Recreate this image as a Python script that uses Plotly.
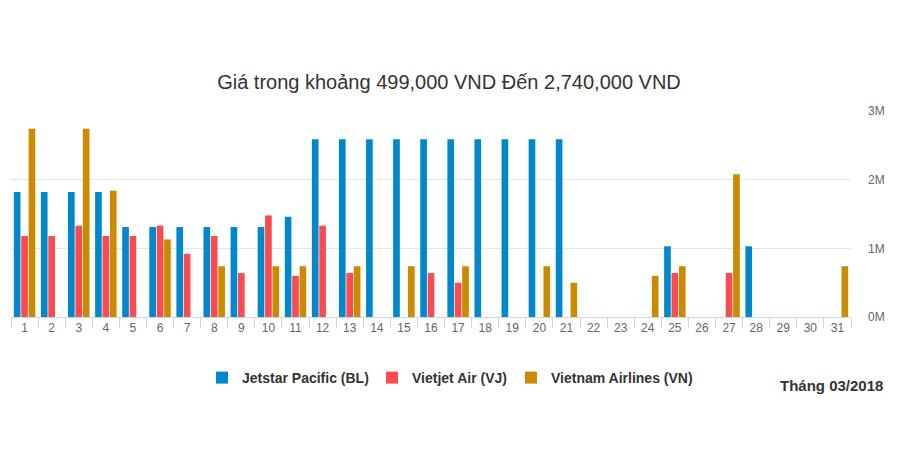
import plotly.graph_objects as go

days = [str(d) for d in range(1, 32)]
jetstar = [1.82, 1.82, 1.82, 1.82, 1.31, 1.31, 1.31, 1.31, 1.31, 1.31, 1.46, 2.59,
           2.59, 2.59, 2.59, 2.59, 2.59, 2.59, 2.59, 2.59, 2.59, None, None, None,
           1.03, None, None, 1.03, None, None, None]
vietjet = [1.18, 1.18, 1.33, 1.18, 1.18, 1.33, 0.92, 1.18, 0.64, 1.48, 0.60, 1.33,
           0.64, None, None, 0.64, 0.499, None, None, None, None, None, None, None,
           0.64, None, 0.64, None, None, None, None]
vna = [2.74, None, 2.74, 1.84, None, 1.13, None, 0.74, None, 0.74, 0.74, None,
       0.74, None, 0.74, None, 0.74, None, None, 0.74, 0.499, None, None, 0.60,
       0.74, None, 2.08, None, None, None, 0.74]
series_names = ["Jetstar Pacific (BL)", "Vietjet Air (VJ)", "Vietnam Airlines (VN)"]
colors = ["#0088cc", "#fa4b50", "#cc8a00"]
y_ticks = [0, 1, 2, 3]
y_labels = ["0M", "1M", "2M", "3M"]

# page body has an 8px margin: figure origin sits at screen (8, 8)
OX, OY = 8, 8
W, H = 900 - OX, 471 - OY
ML, MR, MT, MB = 11 - OX, 49, 111 - OY, 154
PW = W - ML - MR

legend_names = ["legend", "legend2", "legend3"]
legend_text_x = [242, 412, 551]  # screen x where each legend label starts

fig = go.Figure()
for name, vals, c, lg in zip(series_names, [jetstar, vietjet, vna], colors, legend_names):
    fig.add_trace(go.Bar(x=days, y=[v * 1e6 if v is not None else None for v in vals],
                         name="<b>" + name + "</b>", legend=lg,
                         marker=dict(color=c, line=dict(width=0))))

legend_font = dict(size=14, color="#333333", family="Liberation Sans, Arial, sans-serif")
legends = {}
for lg, tx in zip(legend_names, legend_text_x):
    legends[lg] = dict(orientation="h", x=(tx - OX - 40 - ML) / PW, xanchor="left",
                       y=1 - (378 - OY) / H, yref="container", yanchor="middle",
                       font=legend_font, bgcolor="rgba(0,0,0,0)")

fig.update_layout(
    width=W, height=H,
    paper_bgcolor="white", plot_bgcolor="white",
    margin=dict(l=ML, r=MR, t=MT, b=MB),
    barmode="group", bargap=0.18, bargroupgap=0.1,
    font=dict(family="Liberation Sans, Arial, sans-serif", color="#666666"),
    title=dict(text="Giá trong khoảng 499,000 VND Đến 2,740,000 VND",
               x=(449 - OX) / W, xanchor="center", y=1 - (82 - OY) / H, yanchor="middle",
               font=dict(size=20, color="#333333")),
    showlegend=True,
    xaxis=dict(type="category", showgrid=False, showline=True, linecolor="#ccd6eb",
               linewidth=1, ticks="outside", tickson="boundaries", ticklen=10,
               tickcolor="#ccd6eb", tickfont=dict(size=12, color="#666666"),
               fixedrange=True),
    yaxis=dict(side="right", range=[0, 3e6], tickvals=[v * 1e6 for v in y_ticks],
               ticktext=y_labels, showgrid=True, gridcolor="#e6e6e6", gridwidth=1,
               zeroline=False, showline=False, ticks="", ticklabelstandoff=16,
               tickfont=dict(size=12, color="#666666")),
    annotations=[dict(text="<b>Tháng 03/2018</b>", xref="paper", yref="paper",
                      x=(885 - OX - ML) / PW, xanchor="right",
                      y=-(385 - 317) / 206, yanchor="middle",
                      showarrow=False, font=dict(size=15, color="#333333"))],
    **legends,
)

fig.write_html("out.html")
